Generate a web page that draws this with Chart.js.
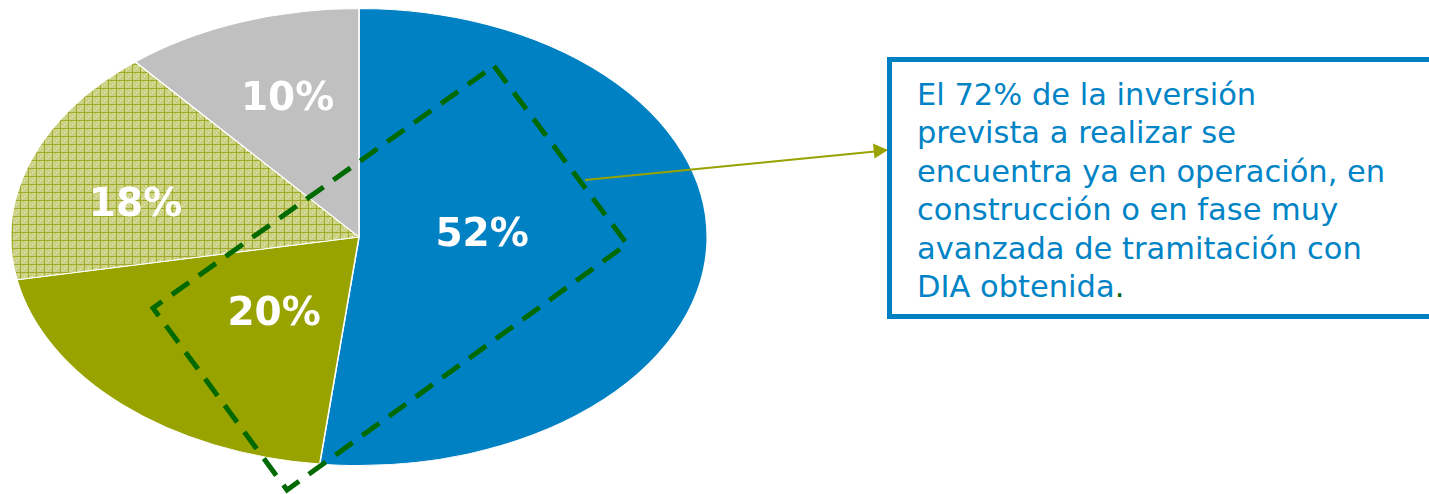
<!DOCTYPE html>
<html>
<head>
<meta charset="utf-8">
<script src="https://cdn.jsdelivr.net/npm/chart.js@4"></script>
<style>
  html, body { margin: 0; padding: 0; background: #fff; overflow: hidden; }
  #wrap { position: relative; width: 1429px; height: 494px; }
  #note {
    position: absolute; left: 887px; top: 57px; width: 620px; height: 262px;
    box-sizing: border-box; border: 5px solid #0080C0; background: #fff;
    padding: 14px 0 0 25px;
    font-family: "DejaVu Sans", Verdana, sans-serif; font-size: 30.5px; line-height: 38.4px;
    color: #0084C6; white-space: nowrap;
  }
  #note .dot { color: #006600; }
</style>
</head>
<body>
<div id="wrap">
  <canvas id="myChart"></canvas>
  <div id="note">El 72% de la inversión<br>prevista a realizar se<br>encuentra ya en operación, en<br>construcción o en fase muy<br>avanzada de tramitación con<br>DIA obtenida<span class="dot">.</span></div>
</div>
<script>
const categories = ['Segmento A', 'Segmento B', 'Segmento C', 'Segmento D'];
const values = [51.8, 20.2, 16.9, 11.1];
const valueLabels = ['52%', '20%', '18%', '10%'];

// ellipse stretch: horizontal radius / vertical radius
const stretchX = 349 / 229;

// light green cross-hatch tile
function makePattern() {
    const tile = document.createElement('canvas');
    tile.width = 8;
    tile.height = 8;
    const t = tile.getContext('2d');
    t.fillStyle = '#CAD182';
    t.fillRect(0, 0, 8, 8);
    t.fillStyle = '#A2AA28';
    t.fillRect(0, 0, 8, 1);
    t.fillRect(0, 0, 1, 8);
    t.fillStyle = '#EEF2D2';
    t.fillRect(4, 4, 1, 1);
    t.fillRect(2, 6, 1, 1);
    t.fillRect(6, 2, 1, 1);
    const p = t.createPattern(tile, 'repeat');
    p.setTransform(new DOMMatrix([1 / stretchX, 0, 0, 1, 0, 0]));
    return p;
}

const colors = ['#0081C3', '#99A300', makePattern(), '#C0C0C0'];

const ellipsePlugin = {
    id: 'ellipse',
    beforeDatasetsDraw(chart) {
        const arc = chart.getDatasetMeta(0).data[0];
        const ctx = chart.ctx;
        ctx.save();
        ctx.translate(arc.x, 0);
        ctx.scale(stretchX, 1);
        ctx.translate(-arc.x, 0);
    },
    afterDatasetsDraw(chart) {
        chart.ctx.restore();
    }
};

const overlayPlugin = {
    id: 'overlay',
    afterDraw(chart) {
        const ctx = chart.ctx;
        const meta = chart.getDatasetMeta(0);
        // label anchor inside each slice: [share of the slice angle, share of the radius]
        const anchor = [[0.464, 0.354], [0.42, 0.405], [0.40, 0.66], [0.54, 0.65]];
        ctx.save();
        ctx.fillStyle = '#fff';
        ctx.font = 'bold 39px "DejaVu Sans", Verdana, sans-serif';
        ctx.textAlign = 'center';
        ctx.textBaseline = 'alphabetic';
        meta.data.forEach((arc, i) => {
            const a = arc.startAngle + (arc.endAngle - arc.startAngle) * anchor[i][0];
            const r = arc.outerRadius * anchor[i][1];
            const x = arc.x + Math.cos(a) * r * stretchX;
            const y = arc.y + Math.sin(a) * r;
            ctx.fillText(valueLabels[i], x, y + 14);
        });
        ctx.restore();

        // dashed highlight frame
        ctx.save();
        ctx.strokeStyle = '#006A00';
        ctx.lineWidth = 5;
        ctx.setLineDash([21, 12]);
        ctx.beginPath();
        ctx.moveTo(494, 66);
        ctx.lineTo(627, 244);
        ctx.lineTo(287, 490);
        ctx.lineTo(153, 308);
        ctx.closePath();
        ctx.stroke();
        ctx.restore();

        // arrow to the note
        ctx.save();
        ctx.strokeStyle = '#99A300';
        ctx.fillStyle = '#99A300';
        ctx.lineWidth = 2;
        ctx.beginPath();
        ctx.moveTo(585, 180);
        ctx.lineTo(875, 151.5);
        ctx.stroke();
        ctx.beginPath();
        ctx.moveTo(888, 150);
        ctx.lineTo(873, 143.5);
        ctx.lineTo(874.5, 158.5);
        ctx.closePath();
        ctx.fill();
        ctx.restore();
    }
};

const data = {
    labels: categories,
    datasets: [{
        data: values,
        backgroundColor: colors,
        borderColor: '#ffffff',
        borderWidth: 1
    }]
};

const config = {
    type: 'pie',
    data: data,
    options: {
        responsive: true,
        maintainAspectRatio: false,
        animation: false,
        layout: {
            padding: { left: 130, right: 841, top: 8, bottom: 28 }
        },
        plugins: {
            legend: { display: false },
            tooltip: { enabled: false }
        }
    },
    plugins: [ellipsePlugin, overlayPlugin]
};

const myChart = new Chart(document.getElementById('myChart'), config);
</script>
</body>
</html>
